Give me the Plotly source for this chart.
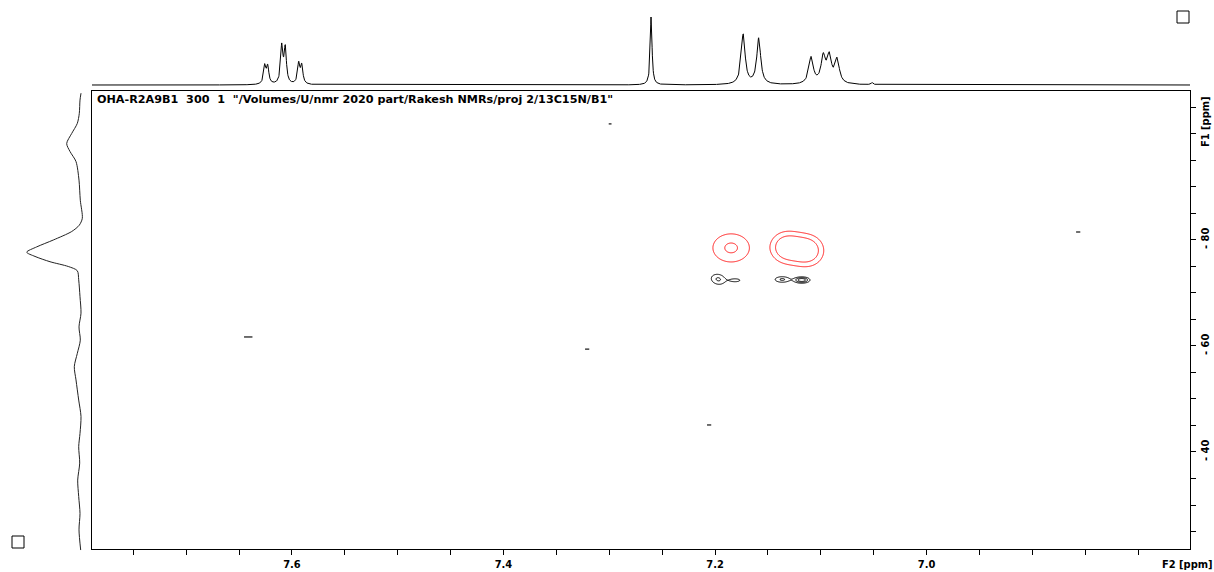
import numpy as np
import plotly.graph_objects as go

W, H = 1214, 572

# ---- 1H projection (F2): peak table, Lorentzian lines ----
h_ppm = [7.6257, 7.6229, 7.6096, 7.6063, 7.5936, 7.5907,
         7.2604,
         7.1734, 7.1587,
         7.1092, 7.0977, 7.0920, 7.0846,
         7.0515]
h_int = [18, 17, 37, 35, 20, 18,
         69,
         50, 46,
         26.5, 26, 26, 24,
         2]
h_hwhm = [0.0013, 0.0013, 0.0013, 0.0013, 0.0013, 0.0013,
          0.0010,
          0.0022, 0.0022,
          0.0025, 0.0025, 0.0025, 0.0025,
          0.0012]

# ---- 15N projection (F1): traced trace ----
n_ppm = [-107.7, -106.4, -103.9, -102.0, -100.1, -98.2, -96.7, -94.8, -91.3,
         -87.5, -84.1, -82.8, -81.6, -80.0, -78.7, -77.7, -76.9, -75.9, -75.0,
         -74.2, -72.5, -69.3, -66.2, -63.6, -61.1, -58.6, -56.1, -53.6, -49.8,
         -46.7, -43.5, -41.0, -37.9, -34.7, -31.6, -28.4, -25.3, -21.5]
n_int = [-1.0, 0.0, 0.7, 2.7, 8.3, 13.3, 10.0, 4.0, 1.0,
         -0.3, -2.3, 0.7, 8.3, 26.7, 43.3, 53.3, 45.0, 30.0, 11.7,
         2.7, 1.3, 0.0, -1.0, 1.0, -0.3, 2.7, 5.7, 4.0, 1.3,
         -1.0, 0.0, 1.3, 0.3, 2.3, 1.3, 0.0, 1.0, -0.7]

# ---- 2D cross peaks (F2 ppm, F1 ppm, amplitude, sigma F2, sigma F1) ----
cp_f2 = [7.1848, 7.1320, 7.1130, 7.1985, 7.1955, 7.1809, 7.1364, 7.1180]
cp_f1 = [-78.5, -78.6, -78.0, -72.9, -72.3, -72.4, -72.55, -72.45]
cp_amp = [2.2, 3.52, 3.52, -1.25, -1.25, -1.5, -2.2, -4.0]
cp_sig2 = [0.0137, 0.0099, 0.0099, 0.0050, 0.0050, 0.0049, 0.0054, 0.0047]
cp_sig1 = [2.11, 1.85, 1.85, 0.70, 0.70, 0.31, 0.42, 0.37]

# isolated noise contours
dot_f2 = [7.6413, 7.3209, 7.2056, 6.8567, 7.2992]
dot_f1 = [-61.7, -59.4, -45.1, -81.5, -101.9]
dot_len = [6, 3, 3, 3, 2]

# axis labels
f2_tick_vals = [7.6, 7.4, 7.2, 7.0]
f1_tick_vals = [-80, -60, -40]
f1_tick_text = ["- 80", "- 60", "- 40"]
title_text = 'OHA-R2A9B1  300  1  "/Volumes/U/nmr 2020 part/Rakesh NMRs/proj 2/13C15N/B1"'

F2_RANGE = [7.789, 6.751]
F1_RANGE = [-21.7, -108.1]


def px(x):
    return x / W


def py(y):
    return 1 - y / H


# 1D proton spectrum
x1d = np.linspace(F2_RANGE[1], F2_RANGE[0], 4000)
y1d = np.zeros_like(x1d)
for p, a, g in zip(h_ppm, h_int, h_hwhm):
    y1d += a * g * g / ((x1d - p) ** 2 + g * g)

# 2D cross-peak region
g2 = np.arange(7.06, 7.24, 0.0005)
g1 = np.arange(-87.0, -67.0, 0.1)
G2, G1 = np.meshgrid(g2, g1)
Z = np.zeros_like(G2)
for f2, f1, a, s2, s1 in zip(cp_f2, cp_f1, cp_amp, cp_sig2, cp_sig1):
    Z += a * np.exp(-0.5 * ((G2 - f2) / s2) ** 2 - 0.5 * ((G1 - f1) / s1) ** 2)
Z = np.round(Z, 4)

fig = go.Figure()

# positive levels (red)
fig.add_trace(go.Contour(
    x=g2, y=g1, z=Z, xaxis="x", yaxis="y",
    contours=dict(coloring="lines", start=1, end=2, size=1),
    colorscale=[[0, "#ff1a1a"], [1, "#ff1a1a"]],
    line=dict(width=1), showscale=False, hoverinfo="skip",
))
# negative levels (black)
fig.add_trace(go.Contour(
    x=g2, y=g1, z=-Z, xaxis="x", yaxis="y",
    contours=dict(coloring="lines", start=1, end=4, size=1),
    colorscale=[[0, "black"], [1, "black"]],
    line=dict(width=1), showscale=False, hoverinfo="skip",
))
fig.add_trace(go.Scatter(
    x=dot_f2, y=dot_f1, mode="markers", xaxis="x", yaxis="y",
    marker=dict(symbol="line-ew", size=dot_len, color="black",
                line=dict(width=1.6, color="black")),
    hoverinfo="skip",
))

# top 1D projection
fig.add_trace(go.Scatter(
    x=x1d, y=y1d, mode="lines", xaxis="x2", yaxis="y2",
    line=dict(color="black", width=1), hoverinfo="skip",
))

# left 1D projection
fig.add_trace(go.Scatter(
    x=n_int, y=n_ppm, mode="lines", xaxis="x3", yaxis="y3",
    line=dict(color="#222222", width=1, shape="spline", smoothing=0.8),
    hoverinfo="skip",
))

tick_font = dict(family="DejaVu Sans Condensed", size=11, color="black", weight="bold")

fig.update_layout(
    width=W, height=H,
    margin=dict(l=0, r=0, t=0, b=0),
    paper_bgcolor="white", plot_bgcolor="rgba(0,0,0,0)",
    showlegend=False,
    xaxis=dict(
        domain=[px(92), px(1190)], range=F2_RANGE, anchor="y",
        showgrid=False, zeroline=False,
        showline=True, linecolor="black", linewidth=1, mirror=True,
        ticks="outside", ticklen=5, tickcolor="black", tickwidth=1,
        tickvals=f2_tick_vals, tickformat=".1f", tickfont=tick_font,
        minor=dict(dtick=0.05, tick0=7.0, ticks="outside", ticklen=5,
                   tickcolor="black", tickwidth=1, showgrid=False),
    ),
    yaxis=dict(
        domain=[py(549), py(91)], range=F1_RANGE, anchor="x", side="right",
        showgrid=False, zeroline=False,
        showline=True, linecolor="black", linewidth=1, mirror=True,
        ticks="outside", ticklen=5, tickcolor="black", tickwidth=1,
        tickvals=f1_tick_vals, ticktext=f1_tick_text, tickangle=-90,
        tickfont=tick_font,
        minor=dict(dtick=5, tick0=0, ticks="outside", ticklen=5,
                   tickcolor="black", tickwidth=1, showgrid=False),
    ),
    xaxis2=dict(domain=[px(92), px(1190)], range=F2_RANGE, anchor="y2",
                visible=False),
    yaxis2=dict(domain=[py(86), py(10)], range=[-1, 75], anchor="x2",
                visible=False),
    xaxis3=dict(domain=[px(10), px(88)], range=[70, -8], anchor="y3",
                visible=False),
    yaxis3=dict(domain=[py(560), py(88)], range=[-19.62, -108.68],
                anchor="x3", visible=False),
    annotations=[
        dict(text=title_text, x=px(95), y=py(99), xref="paper", yref="paper",
             xanchor="left", yanchor="middle", showarrow=False,
             font=dict(family="DejaVu Sans", size=11.2, color="black", weight="bold")),
        dict(text="F2 [ppm]", x=px(1187), y=py(564), xref="paper", yref="paper",
             xanchor="center", yanchor="middle", showarrow=False, font=tick_font),
        dict(text="F1 [ppm]", x=px(1205), y=py(122), xref="paper", yref="paper",
             xanchor="center", yanchor="middle", showarrow=False, textangle=-90,
             font=tick_font),
    ],
    shapes=[
        dict(type="rect", xref="paper", yref="paper",
             x0=px(1177), x1=px(1189), y0=py(23), y1=py(11),
             line=dict(color="black", width=1)),
        dict(type="rect", xref="paper", yref="paper",
             x0=px(12), x1=px(24), y0=py(548), y1=py(536),
             line=dict(color="black", width=1)),
    ],
)

fig.write_html("out.html")
